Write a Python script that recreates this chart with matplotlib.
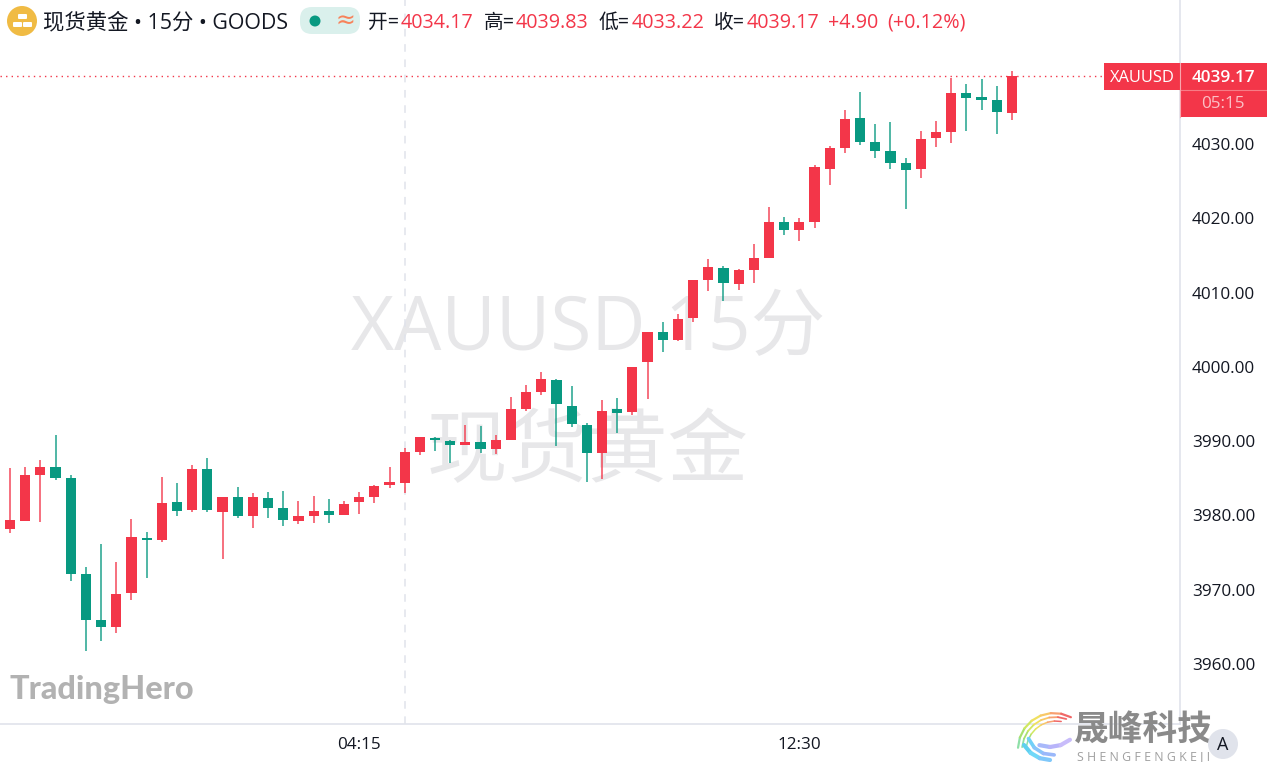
import numpy as np
import matplotlib
matplotlib.use("Agg")
import matplotlib.pyplot as plt
from matplotlib.patches import Circle, FancyBboxPatch, Rectangle

plt.rcParams['font.family'] = ['Open Sans', 'Noto Sans CJK SC', 'DejaVu Sans']

opens = [3971.60, 3978.14, 3979.26, 3985.49, 3986.53, 3985.01, 3972.09, 3965.98, 3965.03, 3969.53, 3976.97,
         3976.70, 3981.86, 3980.70, 3986.22, 3980.51, 3982.45, 3979.97, 3982.40, 3980.97, 3979.26, 3979.93,
         3980.61, 3980.03, 3981.78, 3982.53, 3984.06, 3984.33, 3988.55, 3990.47, 3990.07, 3989.45, 3989.85,
         3988.91, 3990.20, 3994.33, 3996.62, 3998.24, 3994.78, 3992.14, 3988.45, 3994.33, 3993.89, 4000.70,
         4004.74, 4003.66, 4006.58, 4011.66, 4013.35, 4011.12, 4013.08, 4014.62, 4019.54, 4018.47, 4019.54,
         4026.68, 4029.50, 4033.46, 4030.31, 4029.10, 4027.40, 4026.59, 4030.77, 4031.62, 4036.90, 4036.29,
         4035.96, 4034.17]
highs = [3978.05, 3986.43, 3986.57, 3987.47, 3990.88, 3985.45, 3973.11, 3976.12, 3973.74, 3979.49, 3977.78,
         3985.14, 3984.33, 3986.80, 3987.78, 3982.45, 3983.84, 3983.03, 3983.16, 3983.34, 3981.99, 3982.58,
         3982.26, 3981.95, 3983.16, 3984.06, 3986.49, 3989.08, 3990.53, 3990.61, 3990.16, 3992.18, 3992.09,
         3990.83, 3995.91, 3997.56, 3999.27, 3998.33, 3997.47, 3992.41, 3995.55, 3995.85, 4000.03, 4004.74,
         4006.00, 4007.12, 4011.70, 4014.56, 4013.62, 4013.14, 4016.58, 4021.52, 4020.22, 4020.00, 4027.13,
         4029.73, 4034.54, 4036.96, 4032.65, 4032.96, 4028.12, 4031.75, 4033.10, 4038.92, 4038.08, 4038.75,
         4037.85, 4039.83]
lows = [3971.60, 3977.69, 3979.26, 3979.17, 3984.78, 3971.18, 3961.80, 3963.15, 3964.23, 3968.59, 3971.63,
        3976.47, 3979.89, 3980.51, 3980.51, 3974.19, 3979.66, 3978.36, 3979.66, 3978.63, 3978.90, 3978.95,
        3979.03, 3980.03, 3980.16, 3981.64, 3983.74, 3983.07, 3988.18, 3988.64, 3987.11, 3989.45, 3988.45,
        3988.28, 3990.20, 3994.10, 3996.22, 3989.39, 3991.87, 3984.55, 3984.87, 3991.14, 3993.57, 3995.72,
        4002.05, 4003.49, 4006.00, 4010.22, 4008.87, 4010.35, 4011.25, 4014.62, 4017.75, 4016.94, 4018.73,
        4024.52, 4028.83, 4029.91, 4028.16, 4026.59, 4021.29, 4025.46, 4029.64, 4030.17, 4031.75, 4034.58,
        4031.31, 4033.22]
closes = [3978.05, 3979.35, 3985.49, 3986.53, 3985.09, 3972.09, 3965.94, 3964.95, 3969.39, 3977.11, 3976.66,
          3981.72, 3980.65, 3986.22, 3980.78, 3982.45, 3979.97, 3982.45, 3981.05, 3979.35, 3979.89, 3980.65,
          3980.11, 3981.59, 3982.45, 3983.97, 3984.47, 3988.51, 3990.53, 3990.12, 3989.45, 3989.89, 3988.91,
          3990.20, 3994.29, 3996.62, 3998.37, 3995.01, 3992.27, 3988.37, 3994.06, 3993.84, 4000.03, 4004.74,
          4003.62, 4006.45, 4011.66, 4013.45, 4011.29, 4013.08, 4014.62, 4019.54, 4018.47, 4019.54, 4026.86,
          4029.46, 4033.36, 4030.31, 4029.10, 4027.48, 4026.46, 4030.71, 4031.57, 4036.90, 4036.23, 4035.96,
          4034.27, 4039.17]
bar_index = list(range(-1, 67))
price_ticks = [3960, 3970, 3980, 3990, 4000, 4010, 4020, 4030]
time_ticks = [23, 52]
time_labels = ['04:15', '12:30']
crosshair_bar = 26
last_price = 4039.17

UP, DOWN, TXT, LINE = '#f33649', '#089981', '#131722', '#e0e3eb'
W, H = 1267, 762

fig = plt.figure(figsize=(W / 100, H / 100), dpi=100, facecolor='white')

# main price chart: pixel area x 0..1180, y 0..724
ax = fig.add_axes([0, (H - 724) / H, 1180 / W, 724 / H])
ax.set_facecolor('white')
ax.set_xlim(-10 / 15.18, 1170 / 15.18)
ax.set_ylim(4030 - 580 / 7.43, 4030 + 144 / 7.43)
ax.yaxis.tick_right()
ax.set_yticks(price_ticks)
ax.set_yticklabels([f'{p:.2f}' for p in price_ticks], fontsize=12.3, color=TXT)
ax.set_xticks(time_ticks)
ax.set_xticklabels(time_labels, fontsize=12.3, color=TXT)
ax.tick_params(axis='both', length=0)
ax.tick_params(axis='y', pad=8.5)
ax.tick_params(axis='x', pad=9.5)
for s in ('top', 'left'):
    ax.spines[s].set_visible(False)
for s in ('right', 'bottom'):
    ax.spines[s].set_color(LINE)
    ax.spines[s].set_linewidth(1.2)

# watermark
ax.text(0.4985, 0.543, 'XAUUSD 15分', transform=ax.transAxes, ha='center', va='center',
        fontsize=53.8, color='#e7e7e9', zorder=1)
ax.text(0.4975, 0.372, '现货黄金', transform=ax.transAxes, ha='center', va='center',
        fontsize=58, color='#e7e7e9', zorder=1)

ax.axvline(crosshair_bar, color=LINE, lw=1.1, dashes=(5, 5), zorder=2)
ax.plot([ax.get_xlim()[0], (1105 - 10) / 15.18], [last_price, last_price], color=UP, lw=1.0,
        dashes=(1, 3), zorder=2)

for i, o, h, l, c in zip(bar_index, opens, highs, lows, closes):
    col = UP if c >= o else DOWN
    ax.vlines(i, l, h, color=col, lw=1.1, zorder=3, alpha=0.9)
    ax.bar(i, abs(c - o), bottom=min(o, c), width=0.67, color=col, linewidth=0, zorder=4,
           alpha=0.45 if i < 0 else 1)

# overlay in pixel coordinates
ov = fig.add_axes([0, 0, 1, 1], facecolor='none')
ov.set_xlim(0, W)
ov.set_ylim(H, 0)
ov.axis('off')

# header
ov.add_patch(Circle((22, 21), 15, color='#f0bb44', lw=0))
for x, y in [(18, 14), (13, 22), (23, 22)]:
    ov.add_patch(FancyBboxPatch((x, y), 9, 5, boxstyle='round,pad=0,rounding_size=1', fc='white', lw=0))
ov.text(43, 22.5, '现货黄金 • 15分 • GOODS', fontsize=15.4, color=TXT, va='center', ha='left')
ov.add_patch(FancyBboxPatch((300, 7), 60, 27, boxstyle='round,pad=0,rounding_size=12', fc='#daf0ec', lw=0))
ov.add_patch(Circle((315, 21), 5.5, color=DOWN, lw=0))
ov.text(345, 21, '≈', fontsize=17, color='#f7825a', va='center', ha='center', family='DejaVu Sans')
for x, s, col in [(368, '开=', TXT), (401, '4034.17', UP), (484, '高=', TXT), (516, '4039.83', UP),
                  (599, '低=', TXT), (632, '4033.22', UP), (714, '收=', TXT), (747, '4039.17', UP),
                  (828, '+4.90', UP), (887, '(+0.12%)', UP)]:
    ov.text(x, 22.5, s, fontsize=14.2, color=col, va='center', ha='left')

# price tags
ov.add_patch(Rectangle((1104, 63), 76, 27, fc=UP, lw=0))
ov.add_patch(Rectangle((1180, 63), 87, 54, fc=UP, lw=0))
ov.plot([1180, 1267], [90, 90], color='#f77c86', lw=0.8)
ov.plot([1180, 1180], [63, 117], color='#f9a6ad', lw=0.8)
ov.text(1142, 77.5, 'XAUUSD', fontsize=11.9, color='white', ha='center', va='center', fontweight='medium')
ov.text(1223, 77.5, f'{last_price:.2f}', fontsize=12.3, color='white', ha='center', va='center', fontweight='semibold')
ov.text(1223, 104, '05:15', fontsize=12.3, color='#fbc0c5', ha='center', va='center')

# TradingHero logo
ov.text(9, 690, 'TradingHero', fontsize=23.3, color='#b2b2b2', family='Lato', fontweight='black',
        va='center', ha='left')

# auto button
ov.add_patch(Circle((1223, 744), 15, color=LINE, lw=0, zorder=3))
ov.text(1223, 745, 'A', fontsize=13, color=TXT, ha='center', va='center', zorder=4)

# brand stamp
def arc(cx, cy, r, a0, a1, cols, lw):
    t = np.radians(np.linspace(a0, a1, len(cols) + 1))
    for k, col in enumerate(cols):
        ov.plot(cx + r * np.cos(t[k:k + 2]), cy - r * np.sin(t[k:k + 2]), color=col, lw=lw, solid_capstyle='round')
rainbow = ['#8fe0a8', '#a8e070', '#d0e860', '#f0e060', '#f8c868', '#f8a070', '#f06868']
arc(1054, 749, 36, 178, 62, rainbow, 1.6)
arc(1055, 750, 33, 175, 70, rainbow, 1.3)
arc(1056, 751, 30, 172, 80, rainbow, 1.1)
arc(1050, 730, 30, 210, 270, ['#60d0f0', '#70d8f8', '#80c8fa'], 3)
arc(1052, 730, 25, 200, 275, ['#70d0f8', '#88c4fa', '#9ab8fa'], 2.6)
arc(1050, 716, 31, 250, 310, ['#a8b8fa', '#b8b4fa', '#c8bcfa'], 3)
ov.text(1143, 730, '晟峰科技', fontsize=25, color='#8a8a8a', fontweight='bold', ha='center', va='center',
        family=['Noto Sans CJK SC'], zorder=2)
ov.text(1144, 757, 'S H E N G F E N G K E J I', fontsize=8.9, color='#a0a0a0', ha='center', va='center', zorder=2)

fig.savefig('out.png', dpi=100, facecolor='white')
